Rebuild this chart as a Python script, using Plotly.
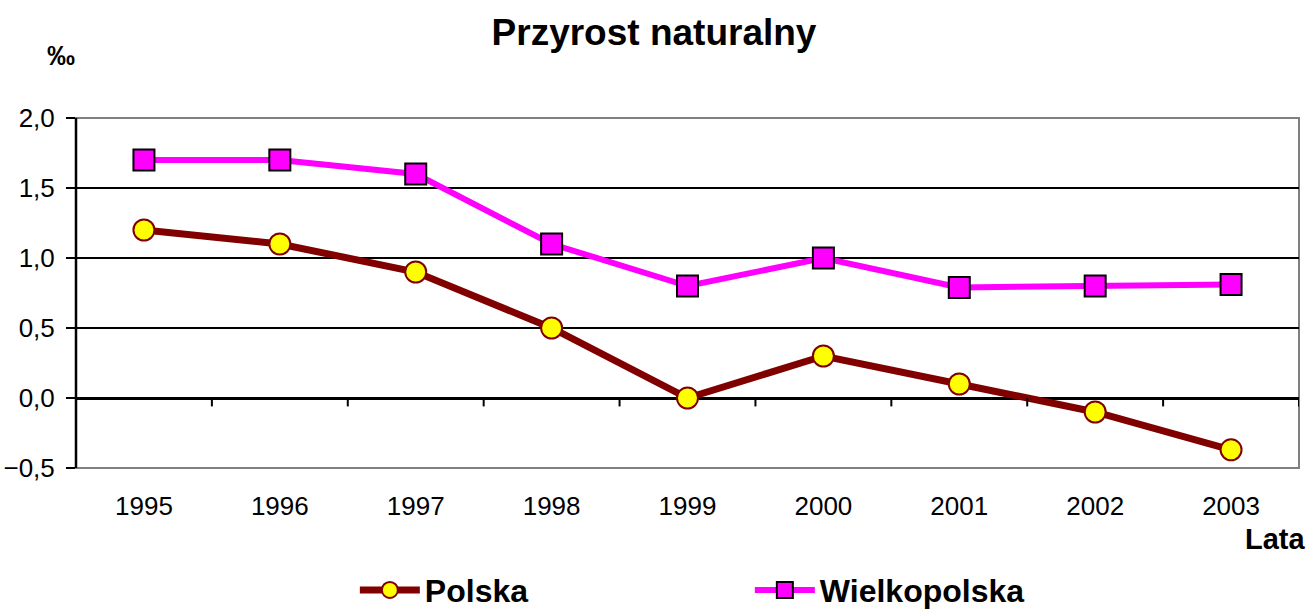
import plotly.graph_objects as go

years = ["1995", "1996", "1997", "1998", "1999", "2000", "2001", "2002", "2003"]
polska = [1.2, 1.1, 0.9, 0.5, 0.0, 0.3, 0.1, -0.1, -0.37]
wielkopolska = [1.7, 1.7, 1.6, 1.1, 0.8, 1.0, 0.79, 0.8, 0.81]
y_ticks = [-0.5, 0.0, 0.5, 1.0, 1.5, 2.0]

FONT = "Arial, 'Liberation Sans', sans-serif"

fig = go.Figure()
fig.add_trace(go.Scatter(
    x=list(range(len(years))), y=polska, name="<b>Polska</b>", mode="lines+markers",
    line=dict(color="#800000", width=7),
    marker=dict(symbol="circle", size=21, color="#FFFF00", line=dict(color="#800000", width=2)),
))
fig.add_trace(go.Scatter(
    x=list(range(len(years))), y=wielkopolska, name="<b>Wielkopolska</b>", mode="lines+markers",
    line=dict(color="#FF00FF", width=6),
    marker=dict(symbol="square", size=21, color="#FF00FF", line=dict(color="#000000", width=2)),
))

shapes = []
for k in range(len(years)):
    shapes.append(dict(type="line", xref="x", yref="y", x0=k + 0.5, x1=k + 0.5, y0=0, y1=-0.06,
                       line=dict(color="black", width=2), layer="above"))
shapes.append(dict(type="rect", xref="x domain", yref="y domain", x0=0, x1=1, y0=0, y1=1,
                   line=dict(color="#808080", width=2), layer="below"))
shapes.append(dict(type="line", xref="x domain", yref="y domain", x0=0, x1=0, y0=0, y1=1,
                   line=dict(color="black", width=2.5), layer="above"))

fig.update_layout(
    width=1308, height=610,
    margin=dict(l=76, r=9, t=118, b=142, autoexpand=False),
    paper_bgcolor="white", plot_bgcolor="white",
    font=dict(family=FONT, color="black", size=26),
    separators=", ",
    title=dict(text="<b>Przyrost naturalny</b>", x=0.5, xanchor="center", y=0.947, yanchor="middle",
               font=dict(size=37, family=FONT, color="black")),
    showlegend=True,
    legend=dict(orientation="h", x=0.228, xanchor="left", y=-0.349, yanchor="middle",
                font=dict(size=32, family=FONT, color="black"),
                entrywidth=320, entrywidthmode="pixels", itemwidth=60,
                itemsizing="trace", bgcolor="rgba(0,0,0,0)"),
    shapes=shapes,
    annotations=[
        dict(text="<b>Lata</b>", xref="paper", yref="paper", x=1.007, xanchor="right",
             y=-0.203, yanchor="middle", showarrow=False, font=dict(size=29, family=FONT, color="black")),
        dict(text="<b>‰</b>", xref="paper", yref="paper", x=-0.012, xanchor="center",
             y=1.18, yanchor="middle", showarrow=False, font=dict(size=28, family=FONT, color="black")),
    ],
)

fig.update_xaxes(
    tickmode="array", tickvals=list(range(len(years))), ticktext=years,
    range=[-0.5, len(years) - 0.5], showgrid=False, zeroline=False, showline=False,
    ticks="", ticklabelstandoff=20, tickfont=dict(size=26, family=FONT, color="black"),
)
fig.update_yaxes(
    range=[-0.5, 2.0], tickvals=y_ticks, tickformat=".1f",
    showgrid=True, gridcolor="black", gridwidth=2,
    zeroline=True, zerolinecolor="black", zerolinewidth=2.5,
    showline=False, ticks="outside", ticklen=9, tickwidth=2, tickcolor="black",
    ticklabelstandoff=6, tickfont=dict(size=26, family=FONT, color="black"),
)

fig.write_html("out.html", config={"displayModeBar": False},
               post_script="document.body.style.margin='0';document.body.style.overflow='hidden';")
